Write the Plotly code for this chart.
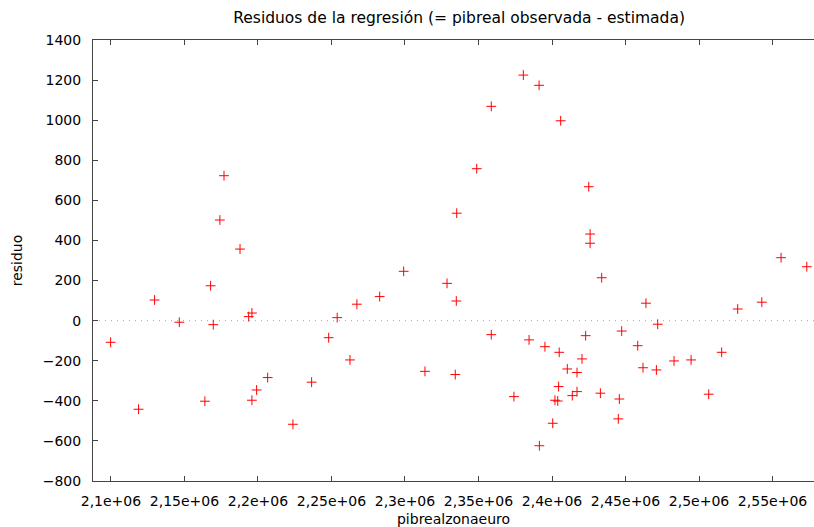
import plotly.graph_objects as go

pib = [2.0998e6, 2.1188e6, 2.1297e6, 2.1465e6, 2.1639e6, 2.1678e6, 2.1696e6, 2.1741e6, 2.1769e6, 2.1878e6,
       2.1937e6, 2.1959e6, 2.1959e6, 2.1991e6, 2.2066e6, 2.2238e6, 2.2365e6, 2.2481e6, 2.2539e6, 2.2626e6,
       2.2673e6, 2.2828e6, 2.2991e6, 2.3136e6, 2.3286e6, 2.3349e6, 2.3342e6, 2.3352e6, 2.3488e6, 2.3587e6,
       2.3587e6, 2.3741e6, 2.3805e6, 2.3844e6, 2.3912e6, 2.3914e6, 2.3952e6, 2.4005e6, 2.4020e6, 2.4039e6,
       2.4045e6, 2.4049e6, 2.4059e6, 2.4104e6, 2.4138e6, 2.4170e6, 2.4170e6, 2.4204e6, 2.4229e6, 2.4250e6,
       2.4259e6, 2.4259e6, 2.4329e6, 2.4338e6, 2.4451e6, 2.4458e6, 2.4474e6, 2.4583e6, 2.4619e6, 2.4639e6,
       2.4710e6, 2.4719e6, 2.4830e6, 2.4946e6, 2.5066e6, 2.5154e6, 2.5263e6, 2.5427e6, 2.5558e6, 2.5733e6]
residuo = [-108, -442, 103, -8, -402, 174, -20, 502, 723, 357,
           20, 38, -397, -346, -284, -517, -307, -85, 15, -196,
           82, 120, 246, -253, 186, 98, -269, 536, 758, 1069,
           -70, -379, 1225, -96, 1174, -624, -130, -512, -397, -401,
           -329, -158, 997, -241, -374, -259, -354, -191, -75, 668,
           432, 386, -362, 214, -490, -391, -52, -125, -235, 87,
           -246, -18, -201, -196, -367, -158, 58, 92, 314, 269]

x_tickvals = [2.10e6, 2.15e6, 2.20e6, 2.25e6, 2.30e6, 2.35e6, 2.40e6, 2.45e6, 2.50e6, 2.55e6]
x_ticktext = ["2,1e+06", "2,15e+06", "2,2e+06", "2,25e+06", "2,3e+06", "2,35e+06",
              "2,4e+06", "2,45e+06", "2,5e+06", "2,55e+06"]
y_tickvals = [-800, -600, -400, -200, 0, 200, 400, 600, 800, 1000, 1200, 1400]

fig = go.Figure()
fig.add_trace(go.Scatter(
    x=pib, y=residuo, mode="markers", cliponaxis=False,
    marker=dict(symbol="cross-thin", size=7, line=dict(color="#ff0000", width=1), color="#ff0000"),
    showlegend=False, hoverinfo="x+y",
))

fig.add_shape(type="line", xref="paper", x0=0, x1=1, yref="y", y0=0, y1=0,
              line=dict(color="#a8a8a8", width=1, dash="1px,5px"), layer="below")

font = "DejaVu Sans, sans-serif"
fig.update_layout(
    width=814, height=527,
    margin=dict(l=93, r=0, t=40, b=46, autoexpand=False),
    paper_bgcolor="white", plot_bgcolor="white",
    font=dict(family=font, size=14, color="#000000"),
    title=dict(text="Residuos de la regresión (= pibreal observada - estimada)",
               x=0.564, xanchor="center", y=0.966, yanchor="middle",
               font=dict(family=font, size=15.5, color="#000000")),
    xaxis=dict(range=[2.0878e6, 2.5782e6], tickvals=x_tickvals, ticktext=x_ticktext,
               showgrid=False, zeroline=False, showline=True, linecolor="#444444", linewidth=1,
               mirror="ticks", ticks="inside", ticklen=5, tickcolor="#444444", automargin=False,
               ticklabelstandoff=7,
               tickfont=dict(size=14), title=dict(text="pibrealzonaeuro", standoff=8, font=dict(size=14))),
    yaxis=dict(range=[-800, 1400], tickvals=y_tickvals,
               showgrid=False, zeroline=False, showline=True, linecolor="#444444", linewidth=1,
               mirror=False, ticks="inside", ticklen=5, tickcolor="#444444", automargin=False,
               ticklabelstandoff=8,
               tickfont=dict(size=14), title=dict(text="residuo", standoff=16, font=dict(size=14))),
)

fig.write_html("out.html", config={"displayModeBar": False},
               post_script="document.body.style.margin='0';document.body.style.overflow='hidden';")
